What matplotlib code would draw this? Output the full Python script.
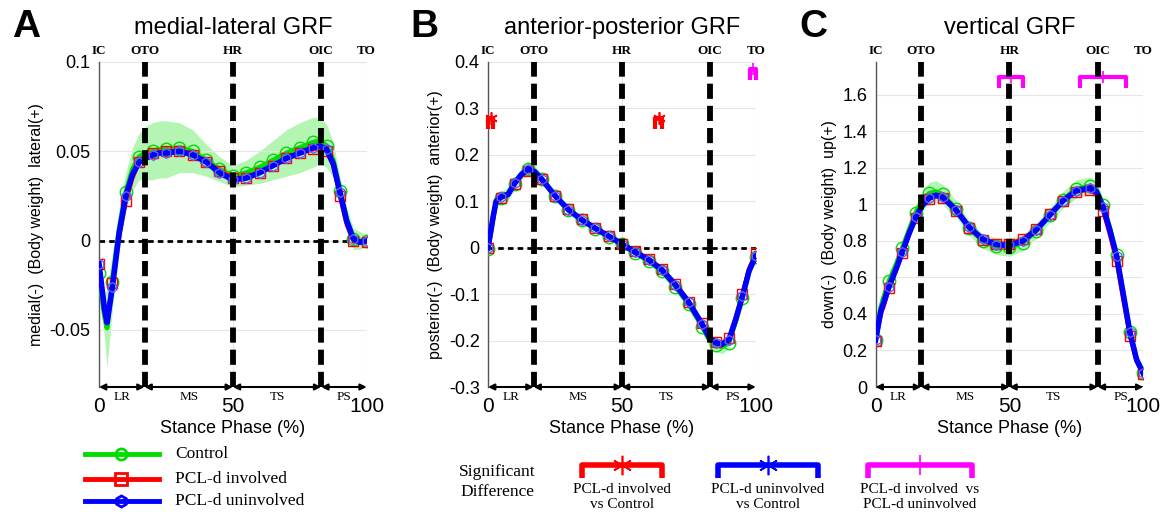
import matplotlib
matplotlib.use("Agg")
import matplotlib.pyplot as plt
import numpy as np
from matplotlib.lines import Line2D
from matplotlib.transforms import blended_transform_factory

# ---- data ----
phase = [0, 2, 3, 5, 7.5, 10, 12.5, 15, 17.5, 20, 22.5, 25, 30, 35, 40, 45, 50,
         55, 60, 65, 70, 75, 80, 82.5, 85, 87.5, 90, 92.5, 95, 97.5, 100]

# medial-lateral
ml_ctrl = [-0.018, -0.042, -0.049, -0.023, 0.006, 0.027, 0.040, 0.047, 0.049, 0.050, 0.051,
           0.051, 0.052, 0.050, 0.045, 0.040, 0.036, 0.038, 0.041, 0.045, 0.049, 0.052,
           0.055, 0.056, 0.053, 0.045, 0.028, 0.012, 0.001, 0.000, 0.000]
ml_ctrl_sd = [0.004, 0.012, 0.022, 0.016, 0.012, 0.011, 0.012, 0.013, 0.015, 0.016, 0.016,
              0.016, 0.014, 0.012, 0.009, 0.007, 0.006, 0.007, 0.009, 0.011, 0.013, 0.014,
              0.014, 0.013, 0.012, 0.010, 0.008, 0.007, 0.006, 0.005, 0.003]
ml_inv = [-0.013, -0.037, -0.045, -0.024, 0.002, 0.022, 0.035, 0.044, 0.047, 0.049, 0.049,
          0.050, 0.050, 0.048, 0.044, 0.039, 0.035, 0.035, 0.038, 0.042, 0.046, 0.049,
          0.051, 0.052, 0.050, 0.042, 0.025, 0.009, 0.000, -0.001, -0.001]
ml_uninv = [-0.013, -0.038, -0.046, -0.026, 0.004, 0.025, 0.037, 0.044, 0.046, 0.048, 0.049,
            0.049, 0.050, 0.048, 0.044, 0.038, 0.034, 0.035, 0.038, 0.042, 0.046, 0.049,
            0.052, 0.053, 0.051, 0.043, 0.027, 0.011, 0.001, -0.001, 0.000]

# anterior-posterior
ap_ctrl = [-0.002, 0.068, 0.100, 0.108, 0.116, 0.138, 0.158, 0.170, 0.165, 0.148, 0.130,
           0.111, 0.081, 0.059, 0.041, 0.024, 0.007, -0.011, -0.028, -0.051, -0.084, -0.122,
           -0.170, -0.197, -0.210, -0.213, -0.205, -0.158, -0.108, -0.050, -0.020]
ap_ctrl_sd = [0.004, 0.010, 0.012, 0.014, 0.014, 0.012, 0.012, 0.014, 0.012, 0.010, 0.009,
              0.008, 0.007, 0.007, 0.007, 0.007, 0.007, 0.007, 0.007, 0.008, 0.009, 0.010,
              0.011, 0.012, 0.014, 0.015, 0.013, 0.011, 0.009, 0.007, 0.005]
ap_inv = [0.000, 0.065, 0.098, 0.108, 0.113, 0.138, 0.155, 0.166, 0.162, 0.147, 0.130,
          0.112, 0.083, 0.061, 0.043, 0.026, 0.009, -0.008, -0.024, -0.046, -0.078, -0.116,
          -0.163, -0.190, -0.203, -0.205, -0.195, -0.150, -0.100, -0.045, -0.012]
ap_uninv = [0.000, 0.070, 0.100, 0.110, 0.115, 0.140, 0.158, 0.170, 0.163, 0.148, 0.130,
            0.112, 0.082, 0.060, 0.042, 0.025, 0.008, -0.010, -0.026, -0.048, -0.080, -0.118,
            -0.165, -0.192, -0.205, -0.208, -0.198, -0.155, -0.105, -0.050, -0.018]

# vertical
v_ctrl = [0.260, 0.440, 0.490, 0.580, 0.665, 0.760, 0.860, 0.955, 1.020, 1.060, 1.070,
          1.055, 0.975, 0.870, 0.800, 0.770, 0.765, 0.790, 0.855, 0.940, 1.025, 1.085,
          1.100, 1.080, 0.995, 0.870, 0.725, 0.515, 0.300, 0.150, 0.075]
v_ctrl_sd = [0.010, 0.030, 0.035, 0.040, 0.040, 0.040, 0.040, 0.045, 0.050, 0.060, 0.060,
             0.055, 0.045, 0.040, 0.040, 0.045, 0.050, 0.045, 0.040, 0.040, 0.045, 0.050,
             0.050, 0.045, 0.040, 0.035, 0.030, 0.025, 0.020, 0.015, 0.010]
v_inv = [0.250, 0.400, 0.440, 0.540, 0.635, 0.735, 0.835, 0.925, 0.990, 1.030, 1.045,
         1.035, 0.965, 0.870, 0.805, 0.785, 0.785, 0.810, 0.865, 0.945, 1.020, 1.070,
         1.080, 1.055, 0.965, 0.835, 0.690, 0.480, 0.280, 0.140, 0.070]
v_uninv = [0.257, 0.420, 0.460, 0.550, 0.640, 0.740, 0.840, 0.930, 0.995, 1.035, 1.050,
           1.040, 0.970, 0.875, 0.810, 0.780, 0.775, 0.800, 0.860, 0.940, 1.020, 1.075,
           1.090, 1.070, 0.985, 0.860, 0.720, 0.510, 0.300, 0.150, 0.075]

# gait events and sub-phases
events = ["IC", "OTO", "HR", "OIC", "TO"]
event_pos = [0, 17, 50, 83, 100]
subphases = ["LR", "MS", "TS", "PS"]

# significant-difference spans (start, end) in % stance
ap_sig_inv_ctrl = [(0, 2), (62.5, 65)]
ap_sig_inv_uninv = [(98, 100)]
v_sig_inv_uninv = [(46, 55), (76.5, 93.5)]

titles = ["medial-lateral GRF", "anterior-posterior GRF", "vertical GRF"]
letters = ["A", "B", "C"]
ylabels = ["medial(-)  (Body weight)  lateral(+)",
           "posterior(-)  (Body weight)  anterior(+)",
           "down(-)  (Body weight)  up(+)"]

GREEN = "#00dd00"
RED = "#ff0000"
BLUE = "#0000ff"
MAGENTA = "#ff00ff"
SANS = "Liberation Sans"
SERIF = "Liberation Serif"

fig = plt.figure(figsize=(11.69, 5.16), dpi=100)
lefts = [0.0847, 0.4175, 0.749]
axes = [fig.add_axes([l, 0.25, 0.229, 0.63]) for l in lefts]

marks = [i for i, p in enumerate(phase) if p % 5 == 0]


def draw_bracket(ax, x0, x1, y, color, mark):
    ymin, ymax = ax.get_ylim()
    leg = 0.035 * (ymax - ymin)
    ax.plot([x0, x0, x1, x1], [y - leg, y, y, y - leg], color=color, lw=3,
            solid_capstyle="butt", zorder=6, clip_on=False)
    ax.plot((x0 + x1) / 2, y, marker=mark, color=color, ms=9, mew=1.2,
            zorder=7, clip_on=False)


panels = [(ml_ctrl, ml_ctrl_sd, ml_inv, ml_uninv, (-0.082, 0.1), [-0.05, 0, 0.05, 0.1]),
          (ap_ctrl, ap_ctrl_sd, ap_inv, ap_uninv, (-0.3, 0.4), np.round(np.arange(-0.3, 0.41, 0.1), 1)),
          (v_ctrl, v_ctrl_sd, v_inv, v_uninv, (0, 1.78), np.round(np.arange(0, 1.61, 0.2), 1))]

for k, (ax, (ctrl, sd, inv, uninv, ylim, yticks)) in enumerate(zip(axes, panels)):
    ctrl = np.array(ctrl)
    sd = np.array(sd)
    ax.fill_between(phase, ctrl - sd, ctrl + sd, color="#b4f5b4", lw=0, zorder=1)
    ax.plot(phase, ctrl, color=GREEN, lw=3.5, marker="o", ms=9, mfc="none", mew=1,
            markevery=marks, zorder=3)
    ax.plot(phase, inv, color=RED, lw=3, marker="s", ms=7, mfc="none", mew=1,
            markevery=marks, zorder=4)
    ax.plot(phase, uninv, color=BLUE, lw=4, marker="h", ms=7, mfc="none", mew=1,
            mec="#6060ff", markevery=marks, zorder=5)

    ax.set_xlim(0, 100)
    ax.set_ylim(*ylim)
    ax.set_xticks([0, 50, 100])
    ax.set_yticks(yticks)
    ax.set_yticklabels([("%g" % t) for t in yticks])
    ax.tick_params(axis="x", length=0, pad=7, labelsize=15)
    ax.tick_params(axis="y", length=0, pad=6, labelsize=13)
    for lab in ax.get_xticklabels() + ax.get_yticklabels():
        lab.set_fontfamily(SANS)
    ax.grid(True, color="#e6e6e6", lw=0.8, zorder=0)
    for s in ["top", "right", "bottom"]:
        ax.spines[s].set_visible(False)
    ax.spines["left"].set_color("#555555")
    ax.spines["left"].set_linewidth(1)

    # zero line
    ax.plot([0, 100], [0, 0], color="black", lw=2, ls=(0, (2, 1.5)), zorder=2)

    # event lines and labels
    trans = blended_transform_factory(ax.transData, ax.transAxes)
    for name, pos in zip(events, event_pos):
        if 0 < pos < 100:
            ax.plot([pos, pos], [ylim[0], ylim[1]], color="black", lw=4.2,
                    ls=(0, (2.6, 1.2)), zorder=8)
        ax.text(pos, 1.015, name, transform=trans, ha="center", va="bottom",
                fontsize=9.5, fontweight="bold", family=SERIF)

    # sub-phase arrows along the bottom
    for i, name in enumerate(subphases):
        a, b = event_pos[i], event_pos[i + 1]
        ax.annotate("", xy=(b, ylim[0]), xytext=(a, ylim[0]),
                    arrowprops=dict(arrowstyle="<|-|>", color="black", lw=1.5,
                                    mutation_scale=9, shrinkA=0, shrinkB=0),
                    annotation_clip=False, zorder=9)
        ax.text((a + b) / 2, -0.012, name, transform=trans, ha="center", va="top",
                fontsize=9.5, family=SERIF)

    ax.set_ylabel(ylabels[k], fontsize=11.5, family=SANS, labelpad=4)
    ax.text(0.5, -0.128, "Stance Phase (%)", transform=ax.transAxes, ha="center",
            va="center", fontsize=13, family=SANS)
    ax.text(0.5, 1.085, titles[k], transform=ax.transAxes, ha="center",
            va="baseline", fontsize=17, family=SANS)

    x_letter = [0.010, 0.351, 0.684][k]
    fig.text(x_letter, 0.948, letters[k], fontsize=28, fontweight="bold",
             family=SANS, va="center", ha="left")

# significant-difference brackets
for a, b in ap_sig_inv_ctrl:
    draw_bracket(axes[1], a, b, 0.28, RED, (6, 2, 0))
for a, b in ap_sig_inv_uninv:
    draw_bracket(axes[1], a, b, 0.385, MAGENTA, "|")
for a, b in v_sig_inv_uninv:
    draw_bracket(axes[2], a, b, 1.70, MAGENTA, "|")

# ---- legends below the panels ----
W, H = 1169.0, 516.0


def fx(px):
    return px / W


def fy(py):
    return 1 - py / H


group_names = ["Control", "PCL-d involved", "PCL-d uninvolved"]
group_cols = [GREEN, RED, BLUE]
group_marks = ["o", "s", "h"]
for name, col, mk, py in zip(group_names, group_cols, group_marks, [454, 479, 501]):
    fig.add_artist(Line2D([fx(85), fx(159)], [fy(py), fy(py)], color=col, lw=3.5))
    fig.add_artist(Line2D([fx(121)], [fy(py)], color=col, marker=mk, ms=8,
                          mfc="none", mew=2))
    fig.text(fx(175), fy(py), name, fontsize=12.5, family=SERIF, va="center", ha="left")

fig.text(fx(497), fy(482), "Significant\nDifference", fontsize=12.5, family=SERIF,
         ha="center", va="center", linespacing=1.4)

sig_names = ["PCL-d involved\nvs Control", "PCL-d uninvolved\nvs Control",
             "PCL-d involved  vs\nPCL-d uninvolved"]
sig_cols = [RED, BLUE, MAGENTA]
sig_marks = [(6, 2, 0), (6, 2, 0), "|"]
sig_spans = [(582, 662), (718, 818), (868, 972)]
for name, col, mk, (a, b) in zip(sig_names, sig_cols, sig_marks, sig_spans):
    fig.add_artist(Line2D([fx(a), fx(a), fx(b), fx(b)],
                          [fy(478), fy(465), fy(465), fy(478)], color=col, lw=4,
                          solid_capstyle="butt"))
    fig.add_artist(Line2D([fx((a + b) / 2)], [fy(465)], color=col, marker=mk,
                          ms=14, mew=1.2))
    fig.text(fx((a + b) / 2), fy(497), name, fontsize=11, family=SERIF,
             ha="center", va="center", linespacing=1.15)

fig.savefig("out.png", dpi=100)
